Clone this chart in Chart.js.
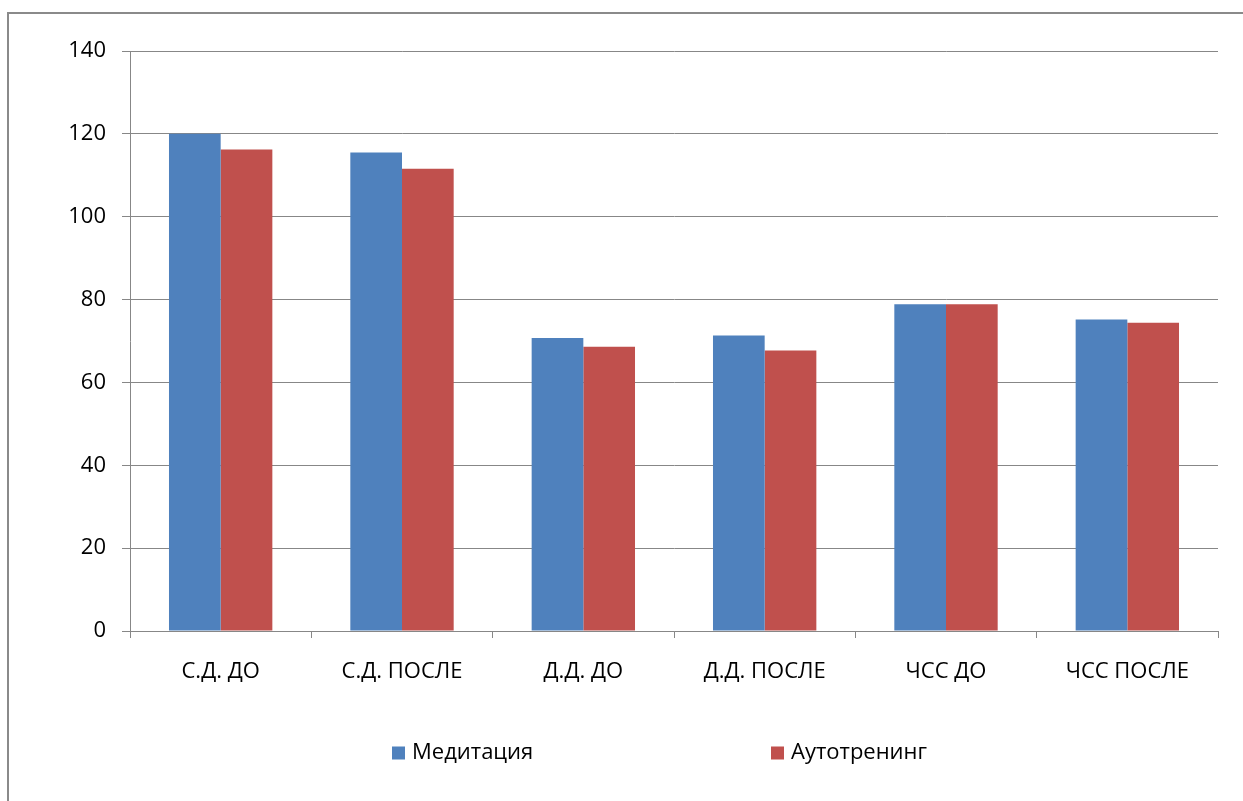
<!DOCTYPE html>
<html>
<head>
<meta charset="utf-8">
<title>Медитация и аутотренинг</title>
<script src="https://cdn.jsdelivr.net/npm/chart.js@4/dist/chart.umd.min.js"></script>
<style>
  html, body { margin: 0; padding: 0; background: #ffffff; }
  #wrap { position: relative; width: 1243px; height: 801px; }
  canvas { display: block; }
</style>
</head>
<body>
<div id="wrap"><canvas id="chart" width="1243" height="801"></canvas></div>
<script>
// Categories and series values
const categories = ['С.Д. ДО', 'С.Д. ПОСЛЕ', 'Д.Д. ДО', 'Д.Д. ПОСЛЕ', 'ЧСС ДО', 'ЧСС ПОСЛЕ'];
const seriesNames = ['Медитация', 'Аутотренинг'];
const meditation = [120, 115.5, 70.7, 71.3, 78.9, 75.2];
const autogenic = [116.2, 111.6, 68.6, 67.7, 78.9, 74.4];
const yTickValues = [0, 20, 40, 60, 80, 100, 120, 140];

const seriesColors = ['#4F81BD', '#C0504D'];
const lineGray = '#878787';
const fontFamily = "'Open Sans', 'Noto Sans', sans-serif";

// Grey frame around the page (left and top edges)
const framePlugin = {
  id: 'frame',
  beforeDraw(chart) {
    const ctx = chart.ctx;
    ctx.save();
    ctx.fillStyle = '#ffffff';
    ctx.fillRect(0, 0, chart.width, chart.height);
    ctx.strokeStyle = '#8a8a8a';
    ctx.lineWidth = 2;
    ctx.beginPath();
    ctx.moveTo(8, chart.height);
    ctx.lineTo(8, 13);
    ctx.lineTo(chart.width, 13);
    ctx.stroke();
    ctx.restore();
  }
};

// Widely spaced legend below the axis
const seriesKeyPlugin = {
  id: 'seriesKey',
  afterDraw(chart, args, opts) {
    const ctx = chart.ctx;
    ctx.save();
    ctx.font = opts.fontSize + 'px ' + fontFamily;
    ctx.textBaseline = 'middle';
    ctx.textAlign = 'left';
    chart.data.datasets.forEach((ds, i) => {
      const x = opts.xs[i];
      const y = opts.y;
      ctx.fillStyle = ds.backgroundColor;
      ctx.fillRect(x, y - opts.box / 2, opts.box, opts.box);
      ctx.fillStyle = '#000000';
      ctx.fillText(ds.label, x + opts.box + opts.gap, y);
    });
    ctx.restore();
  }
};

const ctx = document.getElementById('chart').getContext('2d');
new Chart(ctx, {
  type: 'bar',
  data: {
    labels: categories,
    datasets: [
      { label: seriesNames[0], data: meditation, backgroundColor: seriesColors[0] },
      { label: seriesNames[1], data: autogenic, backgroundColor: seriesColors[1] }
    ]
  },
  options: {
    responsive: false,
    animation: false,
    devicePixelRatio: 1,
    layout: { padding: { left: 20, top: 51, right: 25, bottom: 100 } },
    datasets: {
      bar: { categoryPercentage: 0.57, barPercentage: 1.0, borderWidth: 0 }
    },
    scales: {
      x: {
        offset: true,
        grid: {
          offset: true,
          drawOnChartArea: false,
          drawTicks: true,
          tickLength: 7,
          color: lineGray,
          lineWidth: 1
        },
        border: { display: true, color: lineGray, width: 1 },
        ticks: {
          padding: 21,
          maxRotation: 0,
          autoSkip: false,
          color: '#000000',
          font: { family: fontFamily, size: 22 }
        },
        afterFit(scale) { scale.height = 70; }
      },
      y: {
        min: 0,
        max: 140,
        afterBuildTicks(scale) { scale.ticks = yTickValues.map(v => ({ value: v })); },
        grid: {
          color: lineGray,
          lineWidth: 1,
          tickLength: 8,
          drawTicks: true
        },
        border: { display: true, color: lineGray, width: 1 },
        ticks: {
          padding: 16,
          color: '#000000',
          font: { family: fontFamily, size: 22 }
        },
        afterFit(scale) { scale.width = 110; }
      }
    },
    plugins: {
      legend: { display: false },
      tooltip: { enabled: false },
      seriesKey: { xs: [392, 771], y: 753, box: 13, gap: 7, fontSize: 22 }
    }
  },
  plugins: [framePlugin, seriesKeyPlugin]
});
</script>
</body>
</html>
